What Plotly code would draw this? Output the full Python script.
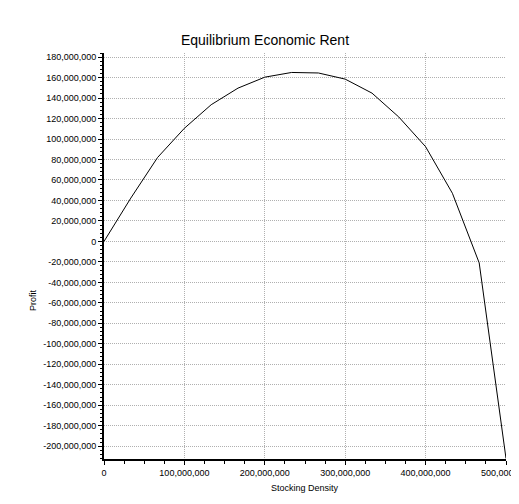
import plotly.graph_objects as go

stocking_density = [0, 33333333, 66666667, 100000000, 133333333, 166666667, 200000000,
                    233333333, 266666667, 300000000, 333333333, 366666667, 400000000,
                    433333333, 466666667, 500000000]
profit = [0, 42300000, 82000000, 110500000, 133500000, 149700000, 160400000,
          165000000, 164500000, 158500000, 144800000, 121500000, 92500000,
          47000000, -21000000, -212000000]

y_ticks = list(range(-200000000, 180000001, 20000000))
y_tick_labels = [f"{v:,}" for v in y_ticks]
x_ticks = [0, 100000000, 200000000, 300000000, 400000000, 500000000]
x_tick_labels = [f"{v:,}" for v in x_ticks]

# page has an 8px body margin; figure coordinates = page coordinates - 8
W, H = 511, 496
L, R, T, B = 96, 13, 45, 45
pw = W - L - R
ph = H - T - B

font = "Liberation Sans, Arial, sans-serif"
grid = dict(showgrid=True, gridcolor="#b0b0b0", griddash="1px,1px", gridwidth=1,
            zeroline=False, showline=True, linecolor="black", linewidth=2,
            ticks="outside", ticklen=4, tickcolor="black", tickwidth=1,
            tickfont=dict(size=9), automargin=False,
            ticklabeloverflow="allow")

fig = go.Figure()
fig.add_trace(go.Scatter(x=stocking_density, y=profit, mode="lines",
                         line=dict(color="black", width=1), showlegend=False))

fig.update_layout(
    width=W, height=H,
    margin=dict(l=L, r=R, t=T, b=B, autoexpand=False),
    paper_bgcolor="white", plot_bgcolor="white",
    font=dict(family=font, size=9, color="black"),
    title=dict(text="Equilibrium Economic Rent", x=257 / W, xref="container",
               xanchor="center", y=1 - 32 / H, yref="container", yanchor="middle",
               font=dict(family=font, size=14, color="black")),
    xaxis=dict(range=[0, 500000000], tickvals=x_ticks, ticktext=x_tick_labels,
               minor=dict(dtick=25000000, ticks="outside", ticklen=3,
                          tickcolor="black", showgrid=False),
               **grid),
    yaxis=dict(range=[-212500000, 184000000], tickvals=y_ticks, ticktext=y_tick_labels,
               minor=dict(dtick=4000000, ticks="outside", ticklen=2,
                          tickcolor="black", showgrid=False),
               **grid),
    annotations=[
        dict(text="Stocking Density", x=(297 - L) / pw, y=(H - B - 480) / ph,
             xref="paper", yref="paper", showarrow=False, font=dict(size=9),
             xanchor="center", yanchor="middle"),
        dict(text="Profit", x=(25 - L) / pw, y=(H - B - 292) / ph,
             xref="paper", yref="paper", showarrow=False, font=dict(size=9),
             textangle=-90, xanchor="center", yanchor="middle"),
    ],
)

fig.write_html("out.html")
